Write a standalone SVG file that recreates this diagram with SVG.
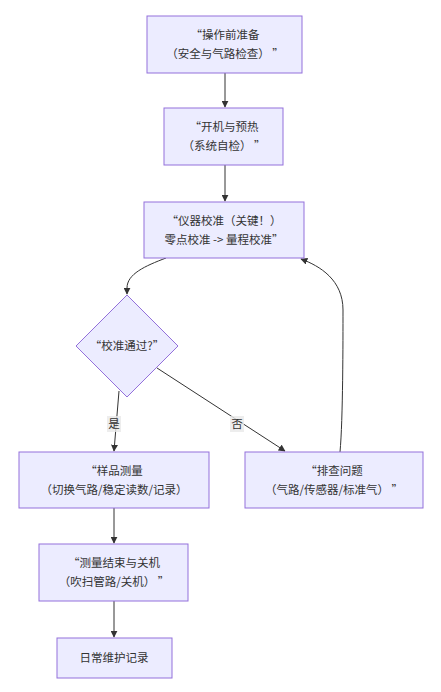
<svg xmlns="http://www.w3.org/2000/svg" width="441" height="692" viewBox="0 0 441 692">
<style>
.node rect,.node polygon{fill:#ECECFF;stroke:#9370DB;stroke-width:1}
text{font-family:"Noto Sans CJK SC","Noto Sans",sans-serif;font-size:11.5px;fill:#333;text-anchor:middle}
.edge{fill:none;stroke:#333;stroke-width:1}
.lbl{fill:#e8e8e8;fill-opacity:0.8}
</style>
<defs>
<marker id="arr" viewBox="0 0 10 10" refX="9" refY="5" markerWidth="7" markerHeight="7" orient="auto" markerUnits="userSpaceOnUse">
<path d="M0,0 L10,5 L0,10 z" fill="#333"/>
</marker>
</defs>
<rect width="441" height="692" fill="#fff"/>
<g id="connectors">
<path class="edge" d="M225,73 L225,107" marker-end="url(#arr)"/>
<path class="edge" d="M225,165 L225,201" marker-end="url(#arr)"/>
<path class="edge" d="M166,258 C145,266 127,274 127,288 L127,294" marker-end="url(#arr)"/>
<path class="edge" d="M119,391 L114,451" marker-end="url(#arr)"/>
<path class="edge" d="M157,368 L285,451" marker-end="url(#arr)"/>
<path class="edge" d="M340,452 C343,420 343,340 343,310 C343,280 320,266 301,259" marker-end="url(#arr)"/>
<path class="edge" d="M114,508 L114,543" marker-end="url(#arr)"/>
<path class="edge" d="M114,601 L114,637" marker-end="url(#arr)"/>
<rect class="lbl" x="107" y="416" width="14" height="16"/>
<text x="114" y="428">是</text>
<rect class="lbl" x="230" y="416" width="14" height="16"/>
<text x="237" y="428">否</text>
</g>
<g id="n1" class="node">
<rect x="147" y="16" width="155" height="57"/>
<text x="225" y="39">“操作前准备</text>
<text x="225" y="58" xml:space="preserve">（安全与气路检查） ”</text>
</g>
<g id="n2" class="node">
<rect x="164" y="108" width="119" height="57"/>
<text x="224" y="131">“开机与预热</text>
<text x="224" y="150" xml:space="preserve">（系统自检） ”</text>
</g>
<g id="n3" class="node">
<rect x="144" y="202" width="160" height="56"/>
<text x="224" y="225">“仪器校准（关键！）</text>
<text x="224" y="244">零点校准 -&gt; 量程校准”</text>
</g>
<g id="n4" class="node">
<polygon points="127,295 178,346 127,397 76,346"/>
<text x="127" y="350">“校准通过?”</text>
</g>
<g id="n5" class="node">
<rect x="19" y="452" width="190" height="56"/>
<text x="114" y="475">“样品测量</text>
<text x="114" y="494">（切换气路/稳定读数/记录）</text>
</g>
<g id="n6" class="node">
<rect x="245" y="452" width="178" height="56"/>
<text x="334" y="475">“排查问题</text>
<text x="334" y="494" xml:space="preserve">（气路/传感器/标准气） ”</text>
</g>
<g id="n7" class="node">
<rect x="39" y="544" width="149" height="57"/>
<text x="114" y="567">“测量结束与关机</text>
<text x="114" y="586" xml:space="preserve">（吹扫管路/关机） ”</text>
</g>
<g id="n8" class="node">
<rect x="57" y="638" width="115" height="40"/>
<text x="114" y="662">日常维护记录</text>
</g>
</svg>
